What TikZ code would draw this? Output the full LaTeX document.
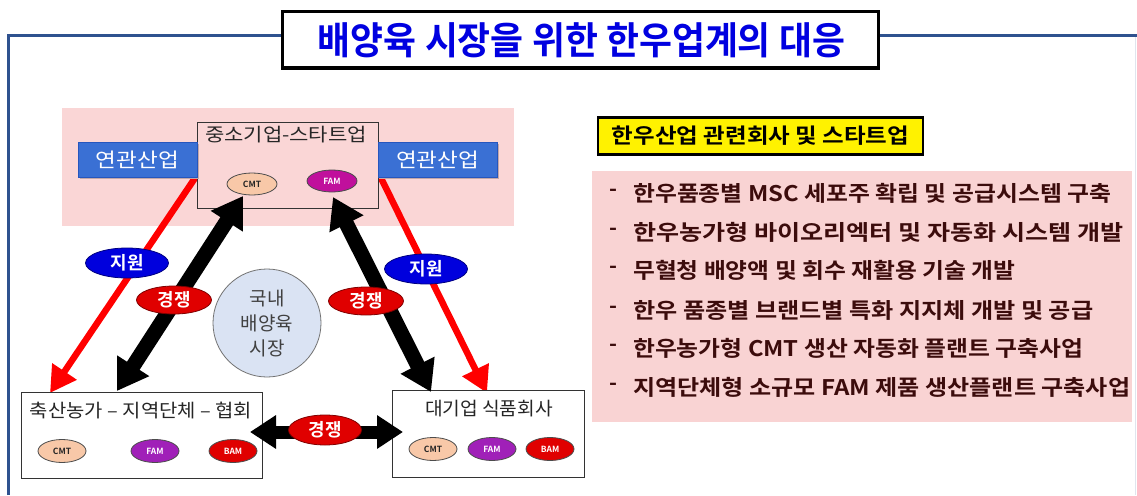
\documentclass[tikz,border=0pt]{standalone}
\usepackage{fontspec}
\setmainfont{Noto Sans CJK KR}[BoldFont={Noto Sans CJK KR Bold}]
\usetikzlibrary{arrows.meta,shapes.geometric}
\definecolor{frameblue}{HTML}{2F528F}
\definecolor{pinkbg}{HTML}{FAD6D6}
\definecolor{listpink}{HTML}{F9D3D3}
\definecolor{titleblue}{HTML}{0000E0}
\definecolor{listtext}{HTML}{3C0C0C}
\definecolor{cmtfill}{HTML}{F8C8A8}
\definecolor{famfill}{HTML}{A020B8}
\definecolor{famfilltop}{HTML}{C0109C}
\definecolor{bamfill}{HTML}{E00000}
\definecolor{supblue}{HTML}{0000DD}
\definecolor{comred}{HTML}{E00000}
\definecolor{circfill}{HTML}{DAE3F3}
\definecolor{relmid}{HTML}{3A70D4}
\definecolor{relbot}{HTML}{2656BE}
\definecolor{shadowc}{HTML}{C4A8A8}
\newcommand{\fs}[1]{\fontsize{#1pt}{#1pt}\selectfont}
\newcommand{\fitw}[2]{\resizebox{#1}{\height}{#2}}
\tikzset{
  pill/.style={ellipse, draw=black!70, line width=0.8pt, minimum width=48pt, minimum height=23pt, inner sep=0pt, font=\fs{8.5}\bfseries},
  cmtpill/.style={pill, fill=cmtfill, text=black!85},
  fampill/.style={pill, fill=famfill, text=white},
  bampill/.style={pill, fill=bamfill, text=white},
  relbox/.style={rectangle, draw=relbot, line width=0.6pt, fill=relmid, minimum width=119pt, minimum height=35pt, inner sep=0pt, text=white, font=\fs{20}},
  relshadow/.style={rectangle, fill=shadowc, minimum width=119pt, minimum height=35pt, inner sep=0pt},
  orgbox/.style={rectangle, draw=black!80, line width=0.8pt, inner sep=0pt},
  redarrow/.style={draw=red, line width=6.5pt, -{Triangle[length=26pt,width=28pt]}},
  blackarrow/.style={draw=black, line width=15pt, {Triangle[length=30pt,width=36pt]}-{Triangle[length=30pt,width=36pt]}},
  suplabel/.style={ellipse, fill=supblue, draw=blue!50!black, line width=0.8pt, minimum width=83pt, minimum height=30pt, inner sep=0pt, text=white, font=\fs{18}\bfseries},
  comlabel/.style={ellipse, fill=comred, draw=red!50!black, line width=0.8pt, minimum width=75pt, minimum height=28pt, inner sep=0pt, text=white, font=\fs{18}\bfseries},
  listline/.style={anchor=west, inner sep=0pt, text=listtext, font=\fs{21.5}\bfseries},
}
\begin{document}
\begin{tikzpicture}[x=1pt,y=-1pt]
\useasboundingbox (0,0) rectangle (1137,495);
\fill[white] (0,0) rectangle (1137,495);
% outer frame
\draw[frameblue!15, line width=1pt] (1135,36) -- (1135,495);
\draw[frameblue, line width=3pt] (8,495) -- (8,36) -- (1137,36);
% title
\node[rectangle, draw=black, line width=3pt, fill=white, minimum width=596pt, minimum height=56pt, inner sep=0pt] (title) at (580,40) {};
\node[text=titleblue, font=\fs{38}\bfseries, inner sep=0pt] (titletxt) at (581.5,40) {\fitw{527pt}{배양육 시장을 위한 한우업계의 대응}};
% pink band
\node[rectangle, fill=pinkbg, minimum width=452pt, minimum height=118pt, inner sep=0pt] (band) at (288,167) {};
% red support arrows (behind blue boxes)
\coordinate (lrelc) at (195,178);
\coordinate (rrelc) at (381,178);
\coordinate (farmtip) at (50,393);
\coordinate (bigtip) at (487,393);
\draw[redarrow] (lrelc) -- (farmtip);
\draw[redarrow] (rrelc) -- (bigtip);
% SME box
\node[orgbox, fill=pinkbg, minimum width=181pt, minimum height=86pt] (sme) at (287.5,165) {};
\node[inner sep=0pt, font=\fs{18.5}, text=black!85] (smetxt) at (286,135) {\fitw{162pt}{중소기업-스타트업}};
\node[cmtpill, minimum width=50pt, minimum height=22pt] (smecmt) at (252,184) {CMT};
\node[fampill, fill=famfilltop, minimum width=50pt, minimum height=22pt] (smefam) at (332,181) {FAM};
% related industry boxes
\node[relshadow] (lrelsh) at (139.5,161.5) {};
\node[relshadow] (rrelsh) at (439.5,161.5) {};
\node[relbox] (lrel) at (137.5,159.5) {\fitw{83pt}{연관산업}};
\node[relbox] (rrel) at (437.5,159.5) {\fitw{83pt}{연관산업}};
% bottom boxes
\node[orgbox, fill=white, minimum width=241pt, minimum height=86pt] (farm) at (141.5,435) {};
\node[inner sep=0pt, font=\fs{18.5}, text=black!85] (farmtxt) at (141,410) {\fitw{222pt}{축산농가 – 지역단체 – 협회}};
\node[cmtpill] (farmcmt) at (62,451) {CMT};
\node[fampill] (farmfam) at (155,451) {FAM};
\node[bampill] (farmbam) at (233,451) {BAM};
\node[orgbox, fill=white, minimum width=192pt, minimum height=87pt] (big) at (488,433.5) {};
\node[inner sep=0pt, font=\fs{18.5}, text=black!85] (bigtxt) at (489,409) {\fitw{128pt}{대기업 식품회사}};
\node[cmtpill] (bigcmt) at (433,449) {CMT};
\node[fampill] (bigfam) at (492,449) {FAM};
\node[bampill] (bigbam) at (550,449) {BAM};
% black competition arrows
\coordinate (ct1) at (243,196);
\coordinate (cb1) at (117,391);
\coordinate (ct2) at (333,197);
\coordinate (cb2) at (431,392);
\coordinate (hl) at (250,432);
\coordinate (hr) at (403,432);
\draw[blackarrow] (ct1) -- (cb1);
\draw[blackarrow] (ct2) -- (cb2);
\draw[blackarrow, line width=13pt, {Triangle[length=26pt,width=32pt]}-{Triangle[length=26pt,width=32pt]}] (hl) -- (hr);
% labels
\node[suplabel] (sup1) at (127,263) {지원};
\node[suplabel] (sup2) at (426,269) {지원};
\node[comlabel] (com1) at (174,300) {경쟁};
\node[comlabel] (com2) at (366,301) {경쟁};
\node[comlabel, minimum width=73pt, minimum height=30pt] (com3) at (325,430) {경쟁};
% market circle
\node[circle, fill=circfill, draw=black!55, line width=0.8pt, minimum size=108pt, inner sep=0pt, align=center, text=black!75, font={\fontsize{19pt}{25pt}\selectfont}] (market) at (267,323) {국내\\배양육\\시장};
% right panel
\node[rectangle, fill=yellow, draw=black, line width=2.5pt, minimum width=325pt, minimum height=37pt, inner sep=0pt, font=\fs{21}\bfseries] (ytitle) at (760.5,136) {\fitw{297pt}{한우산업 관련회사 및 스타트업}};
\node[rectangle, fill=listpink, minimum width=540pt, minimum height=251pt, inner sep=0pt] (listbox) at (862,296.5) {};
\foreach \y/\w/\t [count=\i] in {193/478/한우품종별 MSC 세포주 확립 및 공급시스템 구축,
  232/490/한우농가형 바이오리엑터 및 자동화 시스템 개발,
  270/382/무혈청 배양액 및 회수 재활용 기술 개발,
  310/460/한우 품종별 브랜드별 특화 지지체 개발 및 공급,
  348/450/한우농가형 CMT 생산 자동화 플랜트 구축사업,
  387/497/지역단체형 소규모 FAM 제품 생산플랜트 구축사업}{
  \node[listline] (dash\i) at (609,\y) {-};
  \node[listline] (item\i) at (633,\y) {\fitw{\w pt}{\t}};
}
\end{tikzpicture}
\end{document}
